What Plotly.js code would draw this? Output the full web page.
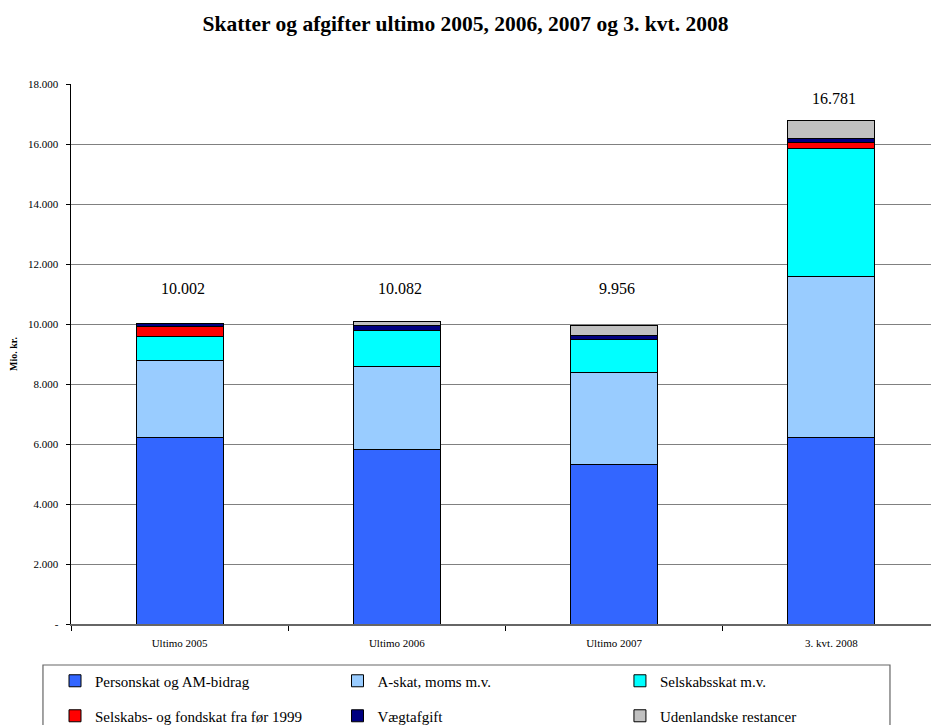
<!DOCTYPE html>
<html>
<head>
<meta charset="utf-8">
<script src="https://cdn.plot.ly/plotly-3.0.1.min.js"></script>
<style>html,body{margin:0;padding:0;background:#fff;}#chart{width:931px;height:725px;}</style>
</head>
<body>
<div id="chart"></div>
<script>
const categories = ["Ultimo 2005", "Ultimo 2006", "Ultimo 2007", "3. kvt. 2008"];
const personskat = [6220, 5830, 5333, 6220];
const askat = [2550, 2750, 3057, 5380];
const selskabsskat = [830, 1200, 1077, 4260];
const selskabsFoer1999 = [310, null, null, 200];
const vaegtafgift = [92, 160, 150, 110];
const udenlandske = [null, 142, 339, 611];
const seriesNames = ["Personskat og AM-bidrag", "A-skat, moms m.v.", "Selskabsskat m.v.",
  "Selskabs- og fondskat fra før 1999", "Vægtafgift", "Udenlandske restancer"];
const yTickVals = [0, 2000, 4000, 6000, 8000, 10000, 12000, 14000, 16000, 18000];
const yTickText = ["-", "2.000", "4.000", "6.000", "8.000", "10.000", "12.000", "14.000", "16.000", "18.000"];

const seriesValues = [personskat, askat, selskabsskat, selskabsFoer1999, vaegtafgift, udenlandske];
const colors = ["#3366FF", "#99CCFF", "#00FFFF", "#FF0000", "#000080", "#C0C0C0"];
const FONT = "Liberation Serif";
const legendIds = ["legend", "legend2", "legend3", "legend4", "legend5", "legend6"];

const traces = seriesValues.map((vals, i) => ({
  type: "bar",
  x: categories,
  y: vals,
  name: seriesNames[i],
  marker: {color: colors[i], line: {color: "#000", width: 1}},
  width: 0.4,
  legend: legendIds[i]
}));

function fmt(n) {
  return Math.round(n).toString().replace(/\B(?=(\d{3})+(?!\d))/g, ".");
}
const totals = categories.map((c, j) => seriesValues.reduce((s, arr) => s + (arr[j] || 0), 0));
const annotations = categories.map((c, j) => ({
  x: c, y: Math.max(11170, totals[j] + 750), xref: "x", yref: "y",
  text: fmt(totals[j]), showarrow: false, yanchor: "middle", xshift: 3,
  font: {family: FONT, size: 16, color: "#000"}
}));

const layout = {
  width: 931, height: 725,
  margin: {l: 71, r: 0, t: 84, b: 101, autoexpand: false},
  paper_bgcolor: "#fff", plot_bgcolor: "#fff",
  barmode: "stack",
  separators: ",.",
  font: {family: FONT, color: "#000"},
  title: {
    text: "<b>Skatter og afgifter ultimo 2005, 2006, 2007 og 3. kvt. 2008</b>",
    font: {family: FONT, size: 21.5, color: "#000"},
    x: 0.5, xanchor: "center", y: 0.968, yanchor: "middle"
  },
  xaxis: {
    type: "category",
    range: [-0.5, 3.4586],
    tickson: "boundaries",
    ticks: "outside", ticklen: 5, tickcolor: "#000", tickwidth: 1,
    ticklabelstandoff: 8,
    showline: true, linecolor: "#666", linewidth: 1.5,
    showgrid: false, zeroline: false,
    tickfont: {family: FONT, size: 11, color: "#000"},
    fixedrange: true
  },
  yaxis: {
    range: [0, 18000],
    tickvals: yTickVals, ticktext: yTickText,
    ticks: "outside", ticklen: 4, tickcolor: "#000", tickwidth: 1,
    ticklabelstandoff: 5,
    showline: true, linecolor: "#000", linewidth: 1.5,
    showgrid: true, gridcolor: "#808080", gridwidth: 1,
    zeroline: false,
    tickfont: {family: FONT, size: 11, color: "#000"},
    title: {text: "<b>Mio. kr.</b>", font: {family: FONT, size: 10, color: "#000"}, standoff: 8},
    automargin: false,
    fixedrange: true
  },
  showlegend: true,
  shapes: [{
    type: "rect", xref: "paper", yref: "paper",
    x0: -0.0326, x1: 0.9523, y0: -0.25, y1: -0.0759,
    line: {color: "#666", width: 1.2}, fillcolor: "rgba(0,0,0,0)", layer: "below"
  }],
  annotations: annotations,
  bargap: 0.6
};

const legendX = [-0.0186, 0.3099, 0.6383];
const legendY = [-0.1056, -0.1704];
legendIds.forEach((id, i) => {
  layout[id] = {
    orientation: "v",
    x: legendX[i % 3], xanchor: "left",
    y: legendY[Math.floor(i / 3)], yanchor: "middle",
    bgcolor: "rgba(0,0,0,0)", borderwidth: 0,
    font: {family: FONT, size: 15, color: "#000"}
  };
});

Plotly.newPlot("chart", traces, layout, {displayModeBar: false, staticPlot: true});
</script>
</body>
</html>
